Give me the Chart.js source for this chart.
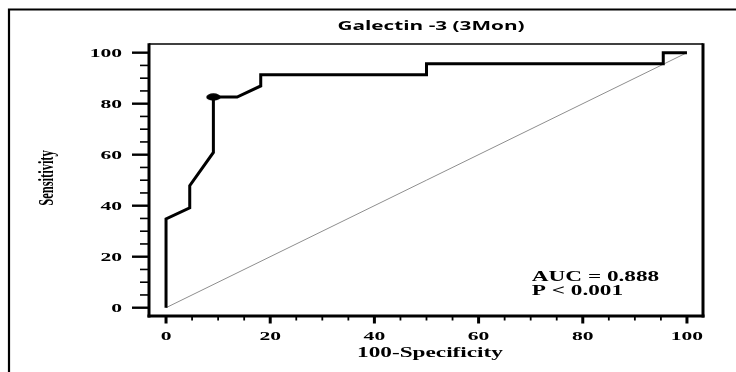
<!DOCTYPE html>
<html><head><meta charset="utf-8">
<script src="https://cdn.jsdelivr.net/npm/chart.js@4.4.0/dist/chart.umd.min.js"></script>
<style>html,body{margin:0;padding:0;background:#fff}canvas{display:block}</style>
</head><body>
<canvas id="c" width="736" height="372"></canvas>
<script>
const TITLE = 'Galectin -3 (3Mon)';
const X_TITLE = '100-Specificity';
const Y_TITLE = 'Sensitivity';
const ROC_X = [0, 0, 4.55, 4.55, 9.09, 9.09, 13.64, 18.18, 18.18, 50, 50, 95.45, 95.45, 100];
const ROC_Y = [0, 34.78, 39.13, 47.83, 60.87, 82.61, 82.61, 86.96, 91.30, 91.30, 95.65, 95.65, 100, 100];
const DIAG_X = [0, 100];
const DIAG_Y = [0, 100];
const CUTOFF_INDEX = 5;
const TICK_VALUES = [0, 5, 10, 15, 20, 25, 30, 35, 40, 45, 50, 55, 60, 65, 70, 75, 80, 85, 90, 95, 100];
const MAJOR_TICKS = [0, 20, 40, 60, 80, 100];
const TICK_LABELS = ['0', '20', '40', '60', '80', '100'];
const STATS = ['AUC = 0.888', 'P < 0.001'];

const SX = 1.66; // horizontal stretch of the original picture's lettering

// elliptical cut-off marker
const marker = document.createElement('canvas');
marker.width = 15; marker.height = 8;
(function(){
  const m = marker.getContext('2d');
  m.fillStyle = '#000';
  m.beginPath();
  m.ellipse(7.5, 4, 7.2, 3.7, 0, 0, Math.PI * 2);
  m.fill();
})();

function stretchedText(ctx, text, x, y, font, align, sx) {
  ctx.save();
  ctx.font = font;
  ctx.textBaseline = 'alphabetic';
  ctx.textAlign = 'left';
  const w = ctx.measureText(text).width * sx;
  const left = align === 'center' ? x - w / 2 : (align === 'right' ? x - w : x);
  ctx.translate(left, y);
  ctx.scale(sx, 1);
  ctx.fillStyle = '#000';
  ctx.fillText(text, 0, 0);
  ctx.restore();
}

const framePlugin = {
  id: 'frame',
  afterDraw(chart) {
    const ctx = chart.ctx;
    const a = chart.chartArea;
    const xs = chart.scales.x, ys = chart.scales.y;
    ctx.save();
    ctx.strokeStyle = '#000';
    ctx.lineCap = 'butt';
    // outer page frame
    ctx.lineWidth = 2.2;
    ctx.beginPath();
    ctx.moveTo(9, 372); ctx.lineTo(9, 9.5); ctx.lineTo(736, 9.5);
    ctx.stroke();
    // plot frame
    ctx.lineWidth = 1.6;
    ctx.beginPath(); ctx.moveTo(a.left, a.top); ctx.lineTo(a.right, a.top); ctx.stroke();
    ctx.lineWidth = 3;
    ctx.beginPath(); ctx.moveTo(a.right, a.top - 0.8); ctx.lineTo(a.right, a.bottom + 1.5); ctx.stroke();
    ctx.beginPath(); ctx.moveTo(a.left, a.top - 0.8); ctx.lineTo(a.left, a.bottom + 1.5); ctx.stroke();
    ctx.beginPath(); ctx.moveTo(a.left - 1.5, a.bottom); ctx.lineTo(a.right + 1.5, a.bottom); ctx.stroke();
    // tick marks
    TICK_VALUES.forEach(v => {
      const major = MAJOR_TICKS.indexOf(v) >= 0;
      const py = ys.getPixelForValue(v);
      ctx.lineWidth = major ? 2.4 : 1.6;
      ctx.beginPath(); ctx.moveTo(a.left - (major ? 17 : 9), py); ctx.lineTo(a.left, py); ctx.stroke();
      const px = xs.getPixelForValue(v);
      ctx.lineWidth = major ? 3 : 1.8;
      ctx.beginPath(); ctx.moveTo(px, a.bottom); ctx.lineTo(px, a.bottom + (major ? 7.5 : 4.5)); ctx.stroke();
    });
    ctx.restore();
    const tickFont = 'bold 13px "Liberation Serif"';
    MAJOR_TICKS.forEach((v, i) => {
      stretchedText(ctx, TICK_LABELS[i], a.left - 27, ys.getPixelForValue(v) + 4.5, tickFont, 'right', SX);
      stretchedText(ctx, TICK_LABELS[i], xs.getPixelForValue(v), 339.5, tickFont, 'center', SX);
    });
    // axis titles
    stretchedText(ctx, X_TITLE, (a.left + a.right) / 2 + 4, 357, 'bold 14px "Liberation Serif"', 'center', SX);
    ctx.save();
    ctx.translate(48, 178);
    ctx.rotate(-Math.PI / 2);
    ctx.scale(1, SX);
    ctx.font = 'bold 12.5px "Liberation Serif"';
    ctx.textAlign = 'center';
    ctx.textBaseline = 'middle';
    ctx.fillStyle = '#000';
    ctx.fillText(Y_TITLE, 0, 0);
    ctx.restore();
    // chart title
    stretchedText(ctx, TITLE, (a.left + a.right) / 2 + 5, 30, 'bold 12.5px "Open Sans"', 'center', SX);
    // statistics
    const sxp = xs.getPixelForValue(70.2);
    stretchedText(ctx, STATS[0], sxp, 281, 'bold 14px "Liberation Serif"', 'left', SX);
    stretchedText(ctx, STATS[1], sxp, 295, 'bold 14px "Liberation Serif"', 'left', SX);
  }
};

new Chart(document.getElementById('c'), {
  type: 'scatter',
  data: {
    datasets: [
      {
        data: ROC_X.map((x, i) => ({ x: x, y: ROC_Y[i] })),
        showLine: true,
        borderColor: '#000',
        backgroundColor: '#000',
        borderWidth: 3,
        borderJoinStyle: 'miter',
        tension: 0,
        pointRadius: c => c.dataIndex === CUTOFF_INDEX ? 7 : 0,
        pointStyle: c => c.dataIndex === CUTOFF_INDEX ? marker : 'circle',
        pointBackgroundColor: '#000',
        clip: false,
        order: 1
      },
      {
        data: DIAG_X.map((x, i) => ({ x: x, y: DIAG_Y[i] })),
        showLine: true,
        borderColor: '#8e8e8e',
        borderWidth: 1,
        pointRadius: 0,
        order: 2
      }
    ]
  },
  options: {
    responsive: false,
    animation: false,
    devicePixelRatio: 1,
    events: [],
    layout: { padding: { left: 149, top: 44, right: 33, bottom: 56 } },
    plugins: { legend: { display: false }, tooltip: { enabled: false }, title: { display: false } },
    scales: {
      x: { type: 'linear', min: -3.27, max: 103.08, display: false },
      y: { type: 'linear', min: -3.25, max: 103.4, display: false }
    }
  },
  plugins: [framePlugin]
});
</script>
</body></html>
